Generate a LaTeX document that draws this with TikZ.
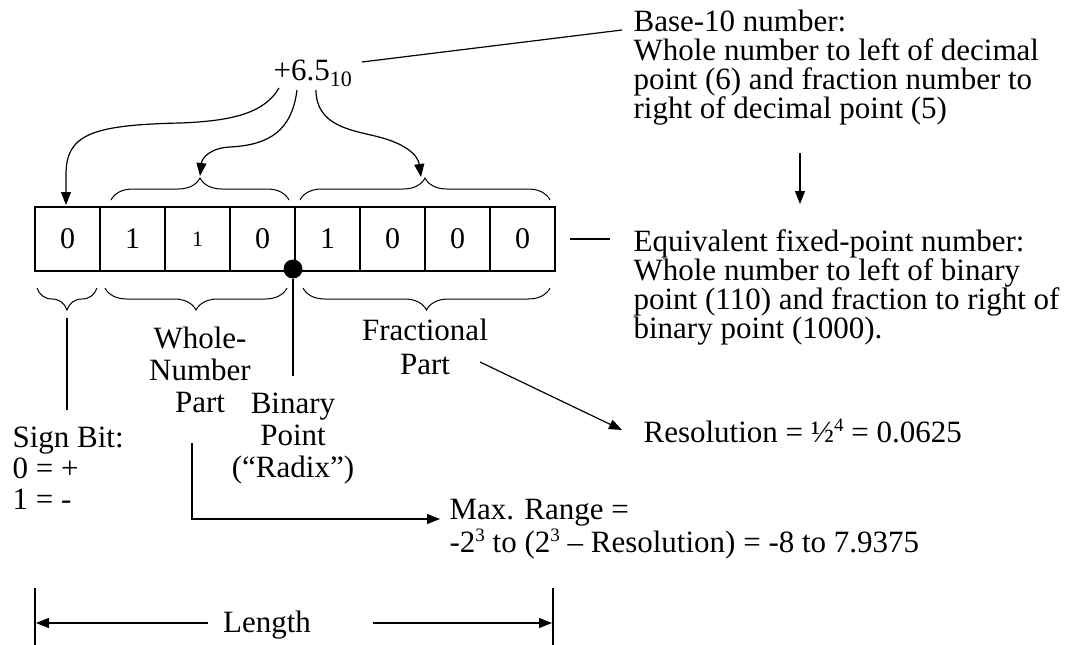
\documentclass[tikz,border=0pt]{standalone}
\usepackage{fontspec}
\setmainfont{Liberation Serif}
\usetikzlibrary{arrows.meta,decorations.pathreplacing}
\newcommand{\mysup}[1]{\raisebox{11pt}{\fontsize{19}{19}\selectfont #1}}
\newcommand{\mysub}[1]{\raisebox{-6pt}{\fontsize{22}{22}\selectfont #1}}
\begin{document}
\begin{tikzpicture}[x=1pt,y=-1pt,
  line width=1.2pt,
  arr/.style={-{Triangle[length=13pt,width=10pt]}},
  brc/.style={decorate,decoration={brace,amplitude=22pt}},
  lbl/.style={inner sep=0pt,font=\fontsize{31}{29}\selectfont},
  cell/.style={draw,minimum width=65pt,minimum height=64pt,inner sep=0pt,font=\fontsize{30}{30}\selectfont},
  dot/.style={circle,fill=black,minimum size=19pt,inner sep=0pt}
]
\useasboundingbox (0,0) rectangle (1069,645);

% register cells
\node[cell] (c1) at (67.5,239) {0};
\node[cell] (c2) at (132.5,239) {\raisebox{-3pt}{1}};
\node[cell] (c3) at (197.5,239) {\fontsize{22}{22}\selectfont 1};
\node[cell] (c4) at (262.5,239) {0};
\node[cell] (c5) at (327.5,239) {1};
\node[cell] (c6) at (392.5,239) {0};
\node[cell] (c7) at (457.5,239) {0};
\node[cell] (c8) at (522.5,239) {0};
\node[dot] (bp) at (293,269) {};

% top number
\node[lbl,anchor=base west] (num) at (273,80) {+6.5\mysub{10}};

% text blocks (base anchor = last line)
\node[lbl,anchor=base west,align=left] (b10) at (633,118) {Base-10 number:\\Whole number to left of decimal\\point (6) and fraction number to\\right of decimal point (5)};
\node[lbl,anchor=base west,align=left] (eqv) at (633,338) {Equivalent fixed-point number:\\Whole number to left of binary\\point (110) and fraction to right of\\binary point (1000).};
\node[lbl,anchor=base,align=center,font=\fontsize{31}{32}\selectfont] (whole) at (200,412) {Whole-\\Number\\Part};
\node[lbl,anchor=base,align=center,font=\fontsize{31}{32}\selectfont] (binary) at (293,477) {Binary\\Point\\(“Radix”)};
\node[lbl,anchor=base,align=center,font=\fontsize{31}{34}\selectfont] (frac) at (425,374) {Fractional\\Part};
\node[lbl,anchor=base west,align=left,font=\fontsize{31}{31}\selectfont] (sign) at (12,509) {Sign Bit:\\0 = +\\1 = -};
\node[lbl,anchor=base west] (res) at (643,442) {Resolution = ½\mysup{4} = 0.0625};
\node[lbl,anchor=base west,align=left,font=\fontsize{31}{33}\selectfont] (range) at (449,552) {Max. Range =\\-2\mysup{3} to (2\mysup{3} – Resolution) = -8 to 7.9375};
\node[lbl,anchor=base] (len) at (267,632) {Length};

% braces
\draw[brc,line width=1pt] (111,200) -- (289,200);
\draw[brc,line width=1pt] (300,200) -- (550,200);
\draw[brc,line width=1pt] (97,288) -- (37,288);
\draw[brc,line width=1pt] (287,288) -- (105,288);
\draw[brc,line width=1pt] (550,288) -- (303,288);

% coordinates
\coordinate (a1s) at (279,88);
\coordinate (a1m) at (180,123);
\coordinate (a1e) at (66,205);
\coordinate (a2s) at (297,90);
\coordinate (a2m) at (230,147);
\coordinate (a2e) at (200,176);
\coordinate (a3s) at (316,90);
\coordinate (a3m) at (375,136);
\coordinate (a3e) at (421,177);
\coordinate (ld1) at (362,62);
\coordinate (ld2) at (622,30);
\coordinate (dn1) at (800,153);
\coordinate (dn2) at (800,204);
\coordinate (eq1) at (570,239);
\coordinate (eq2) at (610,239);
\coordinate (sg1) at (67,318);
\coordinate (sg2) at (67,410);
\coordinate (bp2) at (293,376);
\coordinate (wn1) at (192,443);
\coordinate (wn2) at (440,519);
\coordinate (fr1) at (480,362);
\coordinate (fr2) at (622,430);
\coordinate (lb1) at (35,588);
\coordinate (lb2) at (35,645);
\coordinate (rb1) at (553,588);
\coordinate (rb2) at (553,645);
\coordinate (la1) at (208,623);
\coordinate (la2) at (36,623);
\coordinate (ra1) at (373,623);
\coordinate (ra2) at (552,623);

% connectors
\draw[arr] (a1s) .. controls (265,112) and (235,121) .. (a1m) .. controls (90,125) and (66,135) .. (66,175) -- (a1e);
\draw[arr] (a2s) .. controls (292,130) and (270,145) .. (a2m) .. controls (210,148) and (202,158) .. (a2e);
\draw[arr] (a3s) .. controls (316,125) and (350,130) .. (a3m) .. controls (405,143) and (418,155) .. (a3e);
\draw (ld1) -- (ld2);
\draw[arr] (dn1) -- (dn2);
\draw (eq1) -- (eq2);
\draw (sg1) -- (sg2);
\draw (bp) -- (bp2);
\draw[arr] (wn1) |- (wn2);
\draw[arr] (fr1) -- (fr2);
\draw (lb1) -- (lb2);
\draw (rb1) -- (rb2);
\draw[arr] (la1) -- (la2);
\draw[arr] (ra1) -- (ra2);
\end{tikzpicture}
\end{document}
